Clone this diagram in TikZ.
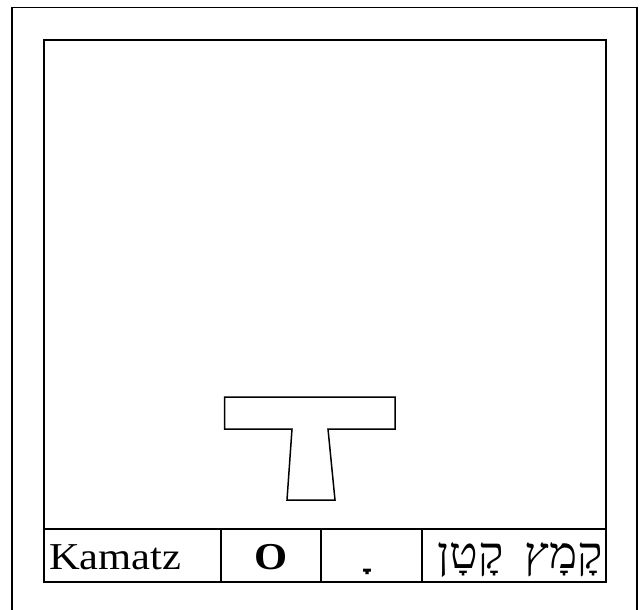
\documentclass[tikz,border=0pt]{standalone}
\usepackage{fontspec}
\setmainfont{Liberation Serif}
\newfontfamily\hebfont[Script=Hebrew]{Liberation Serif}
\TeXXeTstate=1
\begin{document}
\begin{tikzpicture}[x=1pt,y=-1pt,
  frame/.style={line width=1.6pt,draw=black},
  cell/.style={line width=1.4pt,draw=black},
  lbl/.style={inner sep=0pt,font=\fontsize{38}{40}\selectfont,xscale=1.12},
  heblbl/.style={inner sep=0pt,font=\fontsize{44}{46}\selectfont\hebfont,xscale=1.08}]
\useasboundingbox[fill=white] (0,0) rectangle (640,610);
% outer frame (open at bottom)
\draw[frame] (12,612) -- (12,7.5) -- (637,7.5) -- (637,612);
% inner box
\draw[frame] (44,40) rectangle (606,582);
% table row
\draw[cell] (44,529) -- (606,529);
\draw[cell] (221,529) -- (221,582);
\draw[cell] (321,529) -- (321,582);
\draw[cell] (422,529) -- (422,582);
% T shape
\draw[line width=1.5pt,line join=miter] (224.5,397) -- (395,397) -- (395,429) -- (328,429)
  -- (335,500) -- (287,500) -- (292,429) -- (224.5,429) -- cycle;
% labels
\node[lbl,anchor=base west] (kam) at (49,569) {Kamatz};
\node[lbl,anchor=base] (o) at (271,569) {\bfseries O};
\node[heblbl,anchor=base] (pt) at (373,566) {\bfseries\char"00A0\char"05B8};
\node[heblbl,anchor=base east] (heb) at (603,568) {\beginR קָמָץ\hspace{19pt}קָטָן\endR};
\end{tikzpicture}
\end{document}
